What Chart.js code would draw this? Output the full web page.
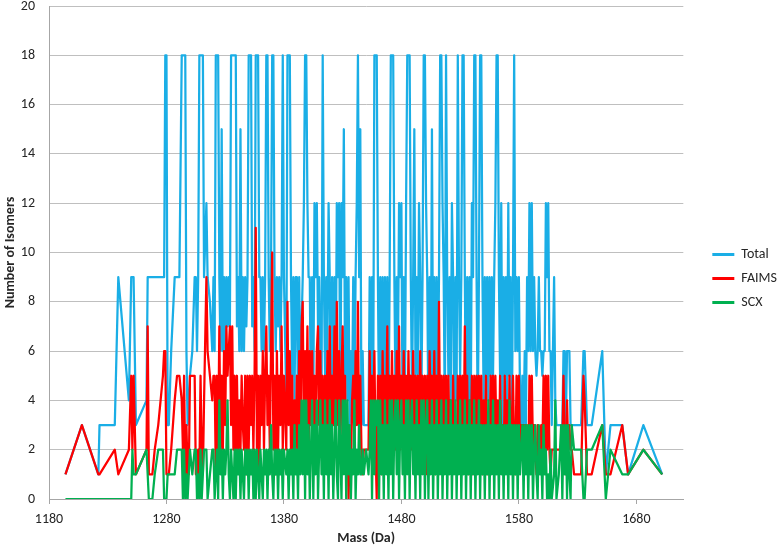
<!DOCTYPE html>
<html>
<head>
<meta charset="utf-8">
<script src="https://cdn.jsdelivr.net/npm/chart.js@4.4.1/dist/chart.umd.min.js"></script>
<style>
    html, body { margin: 0; padding: 0; background: #fff; }
    #wrap { width: 780px; height: 551px; }
</style>
</head>
<body>
<div id="wrap"><canvas id="chart" width="780" height="551"></canvas></div>
<script>
// Mass (Da) of each observed peptide group
const masses = [
    1194,1208,1222,1223,1236,1239,1248,1250,1251,1252,
    1254,1263,1264,1265,1268,1270,1273,1277,1278,1279,
    1280,1281,1282,1284,1287,1289,1291,1293,1294,1295,
    1296,1297,1298,1299,1300,1302,1304,1305,1306,1307,
    1308,1309,1310,1311,1312,1314,1315,1317,1319,1320,
    1321,1322,1323,1324,1325,1326,1327,1328,1329,1330,
    1331,1332,1333,1334,1335,1336,1337,1338,1339,1340,
    1341,1342,1343,1344,1345,1346,1347,1348,1349,1350,
    1351,1352,1353,1354,1355,1356,1357,1358,1359,1360,
    1361,1362,1363,1364,1365,1366,1367,1368,1369,1370,
    1371,1372,1373,1374,1375,1376,1377,1378,1379,1380,
    1382,1383,1384,1385,1386,1387,1388,1389,1390,1391,
    1392,1393,1394,1395,1396,1397,1398,1399,1400,1401,
    1402,1403,1404,1405,1406,1407,1408,1409,1410,1411,
    1412,1413,1414,1415,1416,1417,1418,1419,1420,1421,
    1422,1423,1424,1425,1426,1427,1428,1429,1430,1431,
    1432,1433,1434,1435,1436,1437,1438,1439,1440,1441,
    1442,1443,1444,1445,1446,1447,1448,1450,1452,1453,
    1454,1455,1456,1457,1458,1459,1460,1461,1462,1463,
    1464,1465,1466,1467,1468,1469,1470,1471,1472,1473,
    1474,1475,1476,1477,1478,1479,1480,1481,1482,1483,
    1484,1485,1486,1487,1488,1489,1490,1491,1492,1493,
    1494,1495,1496,1497,1498,1499,1500,1501,1502,1503,
    1504,1505,1506,1507,1508,1509,1510,1511,1512,1513,
    1514,1515,1516,1517,1518,1519,1520,1521,1522,1523,
    1524,1525,1526,1527,1528,1529,1530,1531,1532,1533,
    1534,1535,1536,1537,1538,1539,1540,1541,1542,1543,
    1544,1545,1546,1547,1548,1549,1550,1551,1552,1553,
    1554,1555,1556,1557,1558,1559,1560,1561,1562,1563,
    1564,1565,1566,1567,1568,1569,1570,1571,1572,1573,
    1574,1575,1576,1577,1578,1579,1580,1581,1582,1583,
    1584,1585,1586,1587,1588,1589,1590,1591,1592,1593,
    1594,1595,1596,1597,1598,1599,1600,1601,1602,1603,
    1604,1605,1606,1607,1608,1610,1611,1612,1614,1616,
    1617,1618,1619,1620,1621,1622,1623,1624,1625,1627,
    1633,1635,1636,1638,1642,1651,1654,1658,1668,1673,
    1686,1702
];

const totalIsomers = [
    1,3,1,3,3,9,4,9,9,9,
    3,4,9,9,9,9,9,9,9,18,
    18,3,3,6,9,9,9,18,18,18,
    18,6,3,4,5,6,9,9,6,9,
    18,18,18,18,9,12,9,8,6,9,
    6,18,18,18,9,6,15,6,9,6,
    9,7,9,7,18,18,18,18,18,7,
    9,6,15,6,9,6,9,7,9,18,
    18,18,7,9,6,18,18,18,9,9,
    6,9,6,9,18,18,9,6,9,18,
    18,9,6,9,7,9,6,9,18,9,
    4,18,18,18,9,5,9,4,9,9,
    3,9,4,7,9,12,18,18,12,9,
    9,3,9,4,12,9,12,7,9,6,
    4,18,9,5,9,6,12,9,3,9,
    3,9,4,12,9,12,3,12,9,15,
    5,9,4,9,3,6,4,9,4,9,
    12,18,9,15,3,6,3,3,3,9,
    4,9,4,18,18,18,9,3,9,5,
    9,3,9,4,9,3,9,18,18,18,
    9,4,9,5,12,9,12,3,9,4,
    12,18,18,18,9,4,9,15,5,9,
    5,12,9,4,9,18,18,12,9,3,
    9,3,15,4,9,3,9,4,9,18,
    18,12,9,3,18,9,5,9,4,12,
    9,3,9,4,18,9,5,9,18,18,
    9,3,9,4,9,3,12,9,18,18,
    9,3,9,18,18,9,4,9,5,9,
    4,9,5,9,5,9,12,18,18,9,
    5,12,3,9,5,9,4,12,5,9,
    3,9,18,6,9,6,9,4,3,5,
    3,6,3,9,6,12,6,12,6,9,
    6,5,6,9,6,6,5,6,6,12,
    9,12,6,6,3,9,4,3,3,3,
    3,6,6,3,6,6,6,3,3,3,
    3,6,6,3,3,6,1,3,3,1,
    3,1
];

const faimsIsomers = [
    1,3,1,1,2,1,2,5,2,5,
    1,2,7,1,1,2,3,5,6,6,
    1,1,1,2,4,5,5,4,2,5,
    1,3,1,1,5,5,5,1,1,2,
    1,5,2,1,4,9,6,5,4,5,
    5,1,5,2,7,2,5,2,6,3,
    7,5,6,7,3,7,2,5,1,5,
    2,4,2,5,3,2,5,1,5,2,
    5,3,5,2,5,11,2,5,1,5,
    3,6,2,5,7,3,5,2,6,10,
    2,5,1,6,2,5,3,7,2,5,
    2,8,3,6,2,5,1,4,2,5,
    2,6,2,7,8,2,6,3,7,2,
    6,3,6,2,5,2,6,7,3,6,
    2,5,1,5,2,6,3,7,2,5,
    3,7,2,8,3,6,2,5,7,2,
    5,1,3,0,2,1,4,5,2,6,
    3,8,2,5,2,1,2,2,2,6,
    2,5,3,6,2,0,5,2,5,1,
    6,2,5,3,7,2,5,3,6,2,
    5,2,6,3,7,2,5,3,6,2,
    5,2,6,3,5,2,6,2,5,3,
    5,2,6,3,5,2,5,1,5,2,
    6,3,5,2,6,1,5,2,8,2,
    5,1,5,2,5,1,5,2,4,1,
    5,2,3,1,5,2,5,3,5,2,
    7,2,5,1,4,2,5,1,5,2,
    5,3,5,2,5,1,4,2,5,1,
    3,2,5,3,5,1,5,2,4,1,
    5,2,3,1,5,2,4,1,5,2,
    3,5,2,1,5,2,5,2,3,2,
    3,2,3,2,1,5,2,5,2,3,
    2,1,3,2,2,3,2,5,2,5,
    2,5,2,1,2,2,2,2,2,2,
    2,5,2,1,4,2,3,2,2,1,
    1,5,4,1,1,3,1,1,3,1,
    2,1
];

const scxIsomers = [
    0,0,0,0,0,0,0,0,2,1,
    1,2,1,0,0,1,2,2,0,0,
    0,1,1,1,1,2,2,2,0,2,
    0,1,0,1,2,1,2,2,0,1,
    0,2,0,1,2,2,0,1,2,2,
    0,1,2,0,4,1,2,0,2,1,
    2,4,1,0,2,1,0,2,0,2,
    1,2,0,2,1,0,2,1,2,0,
    2,1,2,0,2,0,2,1,0,2,
    1,0,2,1,2,0,2,1,3,1,
    0,2,1,2,0,2,1,2,0,2,
    1,2,0,2,1,2,0,3,1,2,
    0,3,1,4,1,4,0,4,1,3,
    0,2,4,0,3,1,4,0,2,4,
    1,3,0,4,1,3,0,4,1,3,
    0,2,4,1,0,4,2,0,4,1,
    4,0,4,1,3,0,2,1,4,0,
    2,1,3,1,1,2,1,2,1,2,
    4,0,4,1,4,3,4,0,4,1,
    3,0,4,1,3,0,4,1,4,0,
    3,4,1,4,0,3,4,1,3,0,
    4,1,4,0,3,4,1,3,0,4,
    1,3,0,4,1,4,0,3,4,0,
    3,1,4,0,3,1,4,0,3,1,
    4,0,3,1,4,0,3,1,4,0,
    3,1,4,0,3,1,4,0,3,1,
    4,0,3,1,4,0,3,1,4,0,
    3,1,4,0,3,1,3,0,3,1,
    4,0,3,1,4,0,3,1,3,0,
    4,1,3,0,3,1,3,0,4,1,
    3,0,3,1,3,0,3,1,2,3,
    0,3,1,3,0,3,1,3,0,2,
    3,1,0,3,1,2,0,3,1,2,
    0,1,0,2,0,1,4,0,1,3,
    0,3,1,3,0,3,1,0,3,2,
    2,0,0,2,2,3,0,2,1,1,
    2,1
];

const xTicks = [1180, 1280, 1380, 1480, 1580, 1680];

const COLORS = {
    total: '#1AAEE6',
    faims: '#FF0000',
    scx: '#00B050',
    grid: '#BFBFBF',
    axis: '#A6A6A6',
    text: '#262626'
};

Chart.defaults.font.family = "Carlito, Calibri, Lato, 'Liberation Sans', sans-serif";
Chart.defaults.font.size = 14;
Chart.defaults.color = COLORS.text;

function toPoints(values) {
    return masses.map((m, i) => ({ x: m, y: values[i] }));
}

// Legend sits a little further right than Chart.js puts it, with a gap after the plot
const legendGap = {
    id: 'legendGap',
    beforeLayout(chart) {
        const legend = chart.legend;
        if (!legend || legend._gapPatched) return;
        const fit = legend.fit;
        legend.fit = function () {
            fit.call(this);
            this.width += 12;
        };
        const draw = legend.draw;
        legend.draw = function () {
            const c = this.ctx;
            c.save();
            c.translate(19, 0);
            draw.call(this);
            c.restore();
        };
        legend._gapPatched = true;
    }
};

const ctx = document.getElementById('chart');

new Chart(ctx, {
    type: 'line',
    data: {
        datasets: [
            { label: 'Total', data: toPoints(totalIsomers), borderColor: COLORS.total, backgroundColor: COLORS.total, order: 3 },
            { label: 'FAIMS', data: toPoints(faimsIsomers), borderColor: COLORS.faims, backgroundColor: COLORS.faims, order: 2 },
            { label: 'SCX', data: toPoints(scxIsomers), borderColor: COLORS.scx, backgroundColor: COLORS.scx, order: 1 }
        ]
    },
    options: {
        responsive: false,
        animation: false,
        devicePixelRatio: 1,
        layout: { padding: { top: 6, right: 0, bottom: 0, left: 0 } },
        elements: {
            line: { borderWidth: 2.25, tension: 0, fill: false, borderJoinStyle: 'round' },
            point: { radius: 0, hoverRadius: 0 }
        },
        scales: {
            x: {
                type: 'linear',
                min: 1180,
                max: 1720,
                afterBuildTicks: axis => { axis.ticks = xTicks.map(v => ({ value: v })); },
                afterFit: scale => {
                    scale.height = 52;
                    scale.paddingLeft = 0;
                    scale.paddingRight = 0;
                },
                grid: { drawOnChartArea: false, drawTicks: true, tickLength: 5, color: COLORS.axis },
                border: { color: COLORS.axis },
                ticks: { padding: 7, maxRotation: 0, autoSkip: false, callback: v => String(v) },
                title: { display: true, text: 'Mass (Da)', font: { weight: 'bold', size: 14 }, padding: { top: 0, bottom: 4 } }
            },
            y: {
                min: 0,
                max: 20,
                afterFit: scale => {
                    scale.width = 49;
                    scale.paddingTop = 0;
                    scale.paddingBottom = 0;
                },
                grid: { color: COLORS.grid, drawTicks: false },
                border: { color: COLORS.axis },
                ticks: { stepSize: 2, padding: 14 },
                title: { display: true, text: 'Number of Isomers', font: { weight: 'bold', size: 14 }, padding: { top: 2, bottom: 2 } }
            }
        },
        plugins: {
            tooltip: { enabled: false },
            legend: {
                position: 'right',
                labels: {
                    boxWidth: 22,
                    boxHeight: 3,
                    padding: 10,
                    font: { size: 14 },
                    sort: (a, b) => a.datasetIndex - b.datasetIndex,
                    generateLabels: chart => {
                        const items = Chart.defaults.plugins.legend.labels.generateLabels(chart);
                        items.forEach(item => {
                            item.fillStyle = item.strokeStyle;
                            item.lineWidth = 0;
                        });
                        return items;
                    }
                }
            }
        }
    },
    plugins: [legendGap]
});
</script>
</body>
</html>
